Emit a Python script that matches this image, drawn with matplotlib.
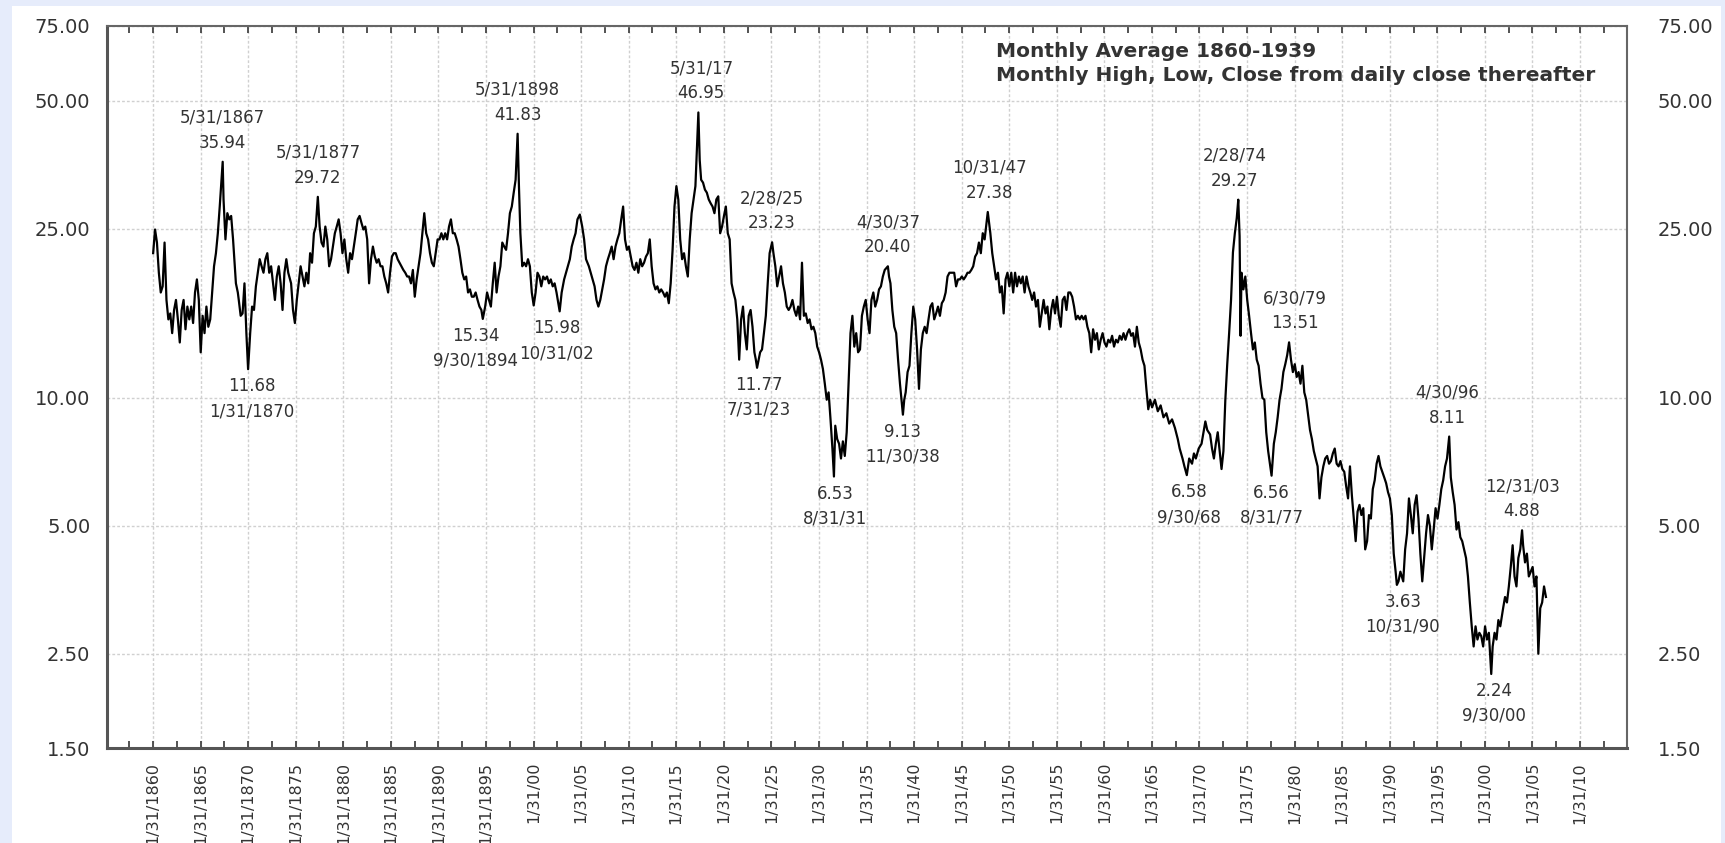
import matplotlib
matplotlib.use("Agg")
import matplotlib.pyplot as plt
from matplotlib.patches import Rectangle
from matplotlib.ticker import NullLocator

# ── Series: decimal year, price ──────────────────────────────────
years = [
    1860.1, 1860.3, 1860.5, 1860.7, 1860.9, 1861.1, 1861.3, 1861.5, 1861.7, 1861.9,
    1862.1, 1862.3, 1862.5, 1862.7, 1862.9, 1863.1, 1863.3, 1863.5, 1863.7, 1863.9,
    1864.1, 1864.3, 1864.5, 1864.7, 1864.9, 1865.1, 1865.3, 1865.5, 1865.7, 1865.9,
    1866.1, 1866.3, 1866.5, 1866.7, 1866.9, 1867.1, 1867.41, 1867.5, 1867.7, 1867.9,
    1868.1, 1868.3, 1868.5, 1868.8, 1869.0, 1869.1, 1869.3, 1869.5, 1869.7, 1869.9,
    1870.08, 1870.3, 1870.5, 1870.7, 1870.9, 1871.1, 1871.3, 1871.5, 1871.7, 1871.9,
    1872.1, 1872.3, 1872.5, 1872.7, 1872.9, 1873.1, 1873.3, 1873.5, 1873.7, 1873.9,
    1874.1, 1874.3, 1874.6, 1874.8, 1875.0, 1875.2, 1875.4, 1875.6, 1875.8, 1876.0,
    1876.2, 1876.4, 1876.6, 1876.8, 1877.0, 1877.2, 1877.41, 1877.6, 1877.8, 1878.0,
    1878.2, 1878.4, 1878.6, 1878.8, 1879.0, 1879.2, 1879.4, 1879.6, 1879.8, 1880.0,
    1880.2, 1880.4, 1880.6, 1880.8, 1881.0, 1881.2, 1881.4, 1881.6, 1881.8, 1882.0,
    1882.2, 1882.4, 1882.6, 1882.8, 1883.0, 1883.2, 1883.4, 1883.6, 1883.8, 1884.0,
    1884.2, 1884.4, 1884.6, 1884.8, 1885.0, 1885.2, 1885.4, 1885.6, 1885.8, 1886.0,
    1886.2, 1886.4, 1886.6, 1886.8, 1887.0, 1887.2, 1887.4, 1887.6, 1887.8, 1888.0,
    1888.2, 1888.4, 1888.6, 1888.8, 1889.0, 1889.2, 1889.4, 1889.6, 1889.8, 1890.0,
    1890.2, 1890.4, 1890.6, 1890.8, 1891.0, 1891.2, 1891.4, 1891.6, 1891.8, 1892.0,
    1892.2, 1892.4, 1892.6, 1892.8, 1893.0, 1893.2, 1893.4, 1893.6, 1893.8, 1894.0,
    1894.2, 1894.4, 1894.6, 1894.75, 1895.0, 1895.2, 1895.4, 1895.6, 1895.8, 1896.0,
    1896.2, 1896.4, 1896.6, 1896.8, 1897.0, 1897.2, 1897.4, 1897.6, 1897.8, 1898.0,
    1898.2, 1898.41, 1898.55, 1898.7, 1898.9, 1899.1, 1899.3, 1899.5, 1899.7, 1899.9,
    1900.1, 1900.3, 1900.5, 1900.7, 1900.9, 1901.1, 1901.3, 1901.5, 1901.7, 1901.9,
    1902.1, 1902.3, 1902.5, 1902.83, 1903.04, 1903.3, 1903.5, 1903.9, 1904.1, 1904.3,
    1904.5, 1904.7, 1904.95, 1905.2, 1905.4, 1905.6, 1905.9, 1906.2, 1906.5, 1906.7,
    1906.9, 1907.1, 1907.3, 1907.5, 1907.7, 1907.9, 1908.1, 1908.3, 1908.5, 1908.7,
    1908.9, 1909.1, 1909.3, 1909.5, 1909.7, 1909.9, 1910.1, 1910.3, 1910.5, 1910.7,
    1910.9, 1911.1, 1911.3, 1911.5, 1911.7, 1911.9, 1912.1, 1912.3, 1912.5, 1912.7,
    1912.9, 1913.1, 1913.3, 1913.5, 1913.7, 1913.9, 1914.1, 1914.3, 1914.5, 1914.7,
    1914.9, 1915.1, 1915.3, 1915.5, 1915.7, 1915.9, 1916.1, 1916.3, 1916.5, 1916.7,
    1916.9, 1917.1, 1917.41, 1917.55, 1917.7, 1917.9, 1918.1, 1918.3, 1918.5, 1918.7,
    1918.9, 1919.1, 1919.3, 1919.5, 1919.7, 1919.9, 1920.1, 1920.3, 1920.5, 1920.7,
    1920.9, 1921.1, 1921.3, 1921.5, 1921.7, 1921.9, 1922.1, 1922.3, 1922.5, 1922.7,
    1922.9, 1923.1, 1923.3, 1923.45, 1923.58, 1923.9, 1924.1, 1924.3, 1924.5, 1924.7,
    1924.9, 1925.16, 1925.3, 1925.5, 1925.7, 1925.9, 1926.1, 1926.3, 1926.5, 1926.7,
    1926.9, 1927.1, 1927.3, 1927.5, 1927.7, 1927.9, 1928.1, 1928.3, 1928.5, 1928.7,
    1928.9, 1929.1, 1929.3, 1929.5, 1929.7, 1929.9, 1930.1, 1930.3, 1930.5, 1930.7,
    1930.9, 1931.1, 1931.3, 1931.5, 1931.66, 1931.8, 1932.0, 1932.2, 1932.4, 1932.6,
    1932.8, 1933.0, 1933.2, 1933.4, 1933.6, 1933.8, 1934.0, 1934.2, 1934.4, 1934.6,
    1934.8, 1935.0, 1935.2, 1935.4, 1935.6, 1935.8, 1936.0, 1936.2, 1936.4, 1936.6,
    1936.8, 1937.0, 1937.33, 1937.45, 1937.6, 1937.8, 1938.0, 1938.2, 1938.4, 1938.6,
    1938.91, 1939.05, 1939.2, 1939.4, 1939.6, 1939.8, 1940.0, 1940.2, 1940.4, 1940.6,
    1940.8, 1941.0, 1941.2, 1941.4, 1941.6, 1941.8, 1942.0, 1942.2, 1942.4, 1942.6,
    1942.8, 1943.0, 1943.2, 1943.4, 1943.6, 1943.8, 1944.1, 1944.3, 1944.5, 1944.7,
    1944.9, 1945.1, 1945.3, 1945.5, 1945.7, 1945.9, 1946.1, 1946.3, 1946.5, 1946.7,
    1946.9, 1947.1, 1947.3, 1947.5, 1947.65, 1947.83, 1948.1, 1948.3, 1948.5, 1948.7,
    1948.9, 1949.1, 1949.3, 1949.5, 1949.7, 1949.9, 1950.1, 1950.3, 1950.5, 1950.7,
    1950.9, 1951.1, 1951.3, 1951.5, 1951.7, 1951.9, 1952.1, 1952.3, 1952.5, 1952.7,
    1952.9, 1953.1, 1953.3, 1953.5, 1953.7, 1953.9, 1954.1, 1954.3, 1954.5, 1954.7,
    1954.9, 1955.1, 1955.3, 1955.5, 1955.7, 1955.9, 1956.1, 1956.3, 1956.5, 1956.7,
    1956.9, 1957.1, 1957.3, 1957.5, 1957.7, 1957.9, 1958.1, 1958.3, 1958.5, 1958.7,
    1958.9, 1959.1, 1959.3, 1959.5, 1959.7, 1959.9, 1960.1, 1960.3, 1960.5, 1960.7,
    1960.9, 1961.1, 1961.3, 1961.5, 1961.7, 1961.9, 1962.1, 1962.3, 1962.5, 1962.7,
    1962.9, 1963.1, 1963.3, 1963.5, 1963.7, 1963.9, 1964.1, 1964.3, 1964.5, 1964.7,
    1964.9, 1965.1, 1965.4, 1965.7, 1966.0, 1966.3, 1966.6, 1966.9, 1967.2, 1967.5,
    1967.8, 1968.0, 1968.3, 1968.5, 1968.75, 1969.0, 1969.3, 1969.5, 1969.7, 1970.0,
    1970.3, 1970.5, 1970.7, 1970.9, 1971.2, 1971.4, 1971.6, 1971.8, 1972.0, 1972.2,
    1972.4, 1972.6, 1972.8, 1973.0, 1973.2, 1973.4, 1973.6, 1973.8, 1974.0, 1974.16,
    1974.3, 1974.4, 1974.5, 1974.7, 1974.9, 1975.1, 1975.3, 1975.5, 1975.7, 1975.9,
    1976.1, 1976.3, 1976.5, 1976.7, 1976.9, 1977.1, 1977.3, 1977.66, 1977.9, 1978.1,
    1978.3, 1978.5, 1978.7, 1978.9, 1979.1, 1979.3, 1979.5, 1979.7, 1979.9, 1980.1,
    1980.3, 1980.5, 1980.7, 1980.9, 1981.1, 1981.3, 1981.5, 1981.7, 1981.9, 1982.1,
    1982.3, 1982.5, 1982.7, 1982.9, 1983.1, 1983.3, 1983.5, 1983.7, 1983.9, 1984.1,
    1984.3, 1984.5, 1984.7, 1984.9, 1985.1, 1985.3, 1985.5, 1985.7, 1985.9, 1986.1,
    1986.3, 1986.5, 1986.7, 1986.9, 1987.1, 1987.3, 1987.5, 1987.7, 1987.9, 1988.1,
    1988.3, 1988.5, 1988.7, 1988.9, 1989.1, 1989.3, 1989.5, 1989.7, 1989.9, 1990.1,
    1990.3, 1990.5, 1990.7, 1990.83, 1991.0, 1991.2, 1991.5, 1991.7, 1991.9, 1992.1,
    1992.3, 1992.5, 1992.7, 1992.9, 1993.1, 1993.3, 1993.5, 1993.7, 1993.9, 1994.1,
    1994.3, 1994.5, 1994.7, 1994.9, 1995.1, 1995.3, 1995.5, 1995.7, 1995.9, 1996.1,
    1996.33, 1996.5, 1996.7, 1996.9, 1997.1, 1997.3, 1997.5, 1997.7, 1997.9, 1998.1,
    1998.3, 1998.5, 1998.7, 1998.9, 1999.1, 1999.3, 1999.5, 1999.7, 1999.9, 2000.1,
    2000.3, 2000.5, 2000.75, 2000.9, 2001.1, 2001.3, 2001.5, 2001.7, 2002.0, 2002.2,
    2002.4, 2002.6, 2002.8, 2003.0, 2003.2, 2003.4, 2003.6, 2003.8, 2003.99, 2004.1,
    2004.3, 2004.5, 2004.7, 2004.9, 2005.1, 2005.3, 2005.5, 2005.7, 2005.9, 2006.1,
    2006.3, 2006.5,
]

prices = [
    21.9, 24.9, 23.2, 19.7, 17.7, 18.3, 23.2, 17.0, 15.3, 15.8,
    14.2, 16.1, 17.0, 15.3, 13.5, 16.1, 17.0, 14.5, 16.4, 15.3,
    16.4, 15.0, 17.7, 19.0, 17.0, 12.8, 15.6, 14.2, 16.4, 14.7,
    15.3, 17.7, 20.4, 21.9, 24.4, 28.2, 35.94, 29.3, 23.6, 27.2,
    26.3, 26.8, 23.6, 18.6, 17.7, 17.0, 15.6, 15.8, 18.6, 14.2,
    11.68, 14.2, 16.4, 16.1, 18.3, 19.7, 21.2, 20.4, 19.7, 21.2,
    21.9, 19.7, 20.4, 18.6, 17.0, 19.3, 20.4, 18.6, 16.1, 19.7,
    21.2, 19.7, 18.6, 16.1, 15.0, 17.0, 18.6, 20.4, 19.3, 18.3,
    19.7, 18.6, 21.9, 20.8, 24.4, 25.3, 29.72, 25.3, 23.2, 22.7,
    25.3, 23.6, 20.4, 21.2, 22.7, 24.4, 25.3, 26.3, 24.4, 21.9,
    23.6, 21.2, 19.7, 21.9, 21.2, 22.7, 24.4, 26.3, 26.8, 25.8,
    24.9, 25.3, 23.6, 18.6, 21.2, 22.7, 21.5, 20.8, 21.2, 20.4,
    20.4, 19.3, 18.6, 17.7, 19.7, 21.5, 21.9, 21.9, 21.2, 20.8,
    20.4, 20.0, 19.7, 19.3, 19.3, 18.6, 20.0, 17.3, 19.0, 20.4,
    21.9, 24.4, 27.2, 24.4, 23.6, 21.9, 20.8, 20.4, 21.9, 23.6,
    23.6, 24.4, 23.6, 24.4, 23.6, 25.3, 26.3, 24.4, 24.4, 23.6,
    22.7, 21.2, 19.7, 19.0, 19.3, 17.7, 18.0, 17.3, 17.3, 17.7,
    17.0, 16.4, 16.1, 15.34, 16.4, 17.7, 17.0, 16.4, 18.6, 20.8,
    17.7, 19.3, 20.4, 23.2, 22.7, 22.3, 24.4, 27.2, 28.2, 30.4,
    32.6, 41.83, 31.5, 24.4, 20.4, 20.8, 20.4, 21.2, 20.4, 17.7,
    16.5, 17.7, 19.7, 19.3, 18.3, 19.3, 19.0, 19.3, 18.6, 19.0,
    18.3, 18.6, 17.7, 15.98, 17.7, 19.0, 19.7, 21.2, 22.7, 23.6,
    24.4, 26.3, 27.0, 25.3, 23.6, 21.2, 20.4, 19.3, 18.3, 17.0,
    16.4, 17.0, 18.0, 19.0, 20.4, 21.2, 21.9, 22.7, 21.2, 22.7,
    23.6, 24.4, 26.3, 28.2, 23.6, 22.3, 22.7, 21.5, 20.4, 20.0,
    20.8, 19.7, 21.2, 20.4, 20.8, 21.5, 21.9, 23.6, 20.4, 18.6,
    18.0, 18.3, 17.7, 18.0, 17.7, 17.3, 17.7, 16.7, 18.6, 22.3,
    28.2, 31.5, 29.3, 23.6, 21.2, 21.9, 20.4, 19.3, 23.6, 27.2,
    29.3, 31.5, 46.95, 36.3, 32.6, 32.1, 30.9, 30.4, 29.3, 28.7,
    28.2, 27.2, 29.3, 29.8, 24.4, 25.3, 26.8, 28.2, 24.4, 23.6,
    18.6, 17.7, 17.0, 15.3, 12.3, 15.3, 16.4, 14.2, 13.0, 15.6,
    16.1, 14.7, 12.8, 12.3, 11.77, 12.8, 13.0, 14.2, 15.6, 18.6,
    21.9, 23.23, 21.9, 20.4, 18.3, 19.3, 20.4, 18.6, 17.7, 16.4,
    16.1, 16.4, 17.0, 16.1, 15.6, 16.4, 15.3, 20.8, 15.6, 15.8,
    15.0, 15.3, 14.5, 14.7, 14.2, 13.2, 12.8, 12.3, 11.7, 10.8,
    9.9, 10.3, 8.9, 7.6, 6.53, 8.6, 8.0, 7.8, 7.2, 7.9,
    7.3, 8.3, 10.8, 14.2, 15.6, 13.2, 14.2, 12.8, 13.0, 15.6,
    16.4, 17.0, 15.3, 14.2, 17.0, 17.7, 16.4, 17.0, 18.0, 18.3,
    19.3, 20.0, 20.40, 19.3, 18.6, 16.1, 14.7, 14.2, 12.3, 10.8,
    9.13, 9.9, 10.3, 11.5, 11.9, 14.2, 16.4, 15.3, 13.0, 10.5,
    13.0, 14.2, 14.7, 14.2, 15.3, 16.4, 16.7, 15.3, 15.8, 16.4,
    15.6, 16.7, 17.0, 17.7, 19.3, 19.7, 19.7, 19.7, 18.3, 19.0,
    19.0, 19.3, 19.0, 19.3, 19.7, 19.7, 20.0, 20.4, 21.5, 21.9,
    23.2, 21.9, 24.4, 23.6, 25.3, 27.38, 24.4, 21.9, 20.4, 19.0,
    19.7, 17.7, 18.3, 15.8, 19.0, 19.7, 18.3, 19.7, 17.7, 19.7,
    18.3, 19.3, 18.6, 19.3, 17.7, 19.3, 18.3, 17.7, 17.0, 17.7,
    16.4, 17.0, 14.7, 15.8, 17.0, 15.8, 16.4, 14.5, 16.1, 17.0,
    15.8, 17.3, 15.6, 14.7, 17.0, 17.3, 16.1, 17.7, 17.7, 17.3,
    16.4, 15.3, 15.6, 15.3, 15.6, 15.3, 15.6, 14.7, 14.2, 12.8,
    14.5, 13.7, 14.2, 13.0, 13.7, 14.2, 13.5, 13.2, 13.7, 13.5,
    14.0, 13.2, 13.7, 13.5, 14.0, 13.7, 14.2, 13.7, 14.2, 14.5,
    14.0, 14.2, 13.2, 14.7, 13.5, 13.0, 12.3, 11.9, 10.5, 9.4,
    9.9, 9.5, 9.9, 9.3, 9.6, 9.0, 9.2, 8.7, 8.9, 8.5,
    8.0, 7.6, 7.2, 6.9, 6.58, 7.2, 7.0, 7.4, 7.2, 7.6,
    7.8, 8.3, 8.8, 8.4, 8.2, 7.6, 7.2, 7.8, 8.3, 7.5,
    6.8, 7.5, 9.9, 12.0, 14.2, 17.0, 22.0, 24.4, 26.5, 29.27,
    24.0, 14.0, 19.7, 18.0, 19.3, 17.0, 15.6, 14.2, 13.0, 13.5,
    12.3, 11.9, 10.8, 10.0, 9.9, 8.3, 7.5, 6.56, 7.8, 8.3,
    9.0, 9.9, 10.5, 11.5, 12.0, 12.6, 13.51, 12.3, 11.5, 12.0,
    11.2, 11.5, 10.8, 11.9, 10.3, 9.9, 9.1, 8.4, 8.0, 7.5,
    7.2, 6.9, 5.8, 6.5, 6.9, 7.2, 7.3, 7.0, 7.1, 7.4,
    7.6, 7.0, 6.9, 7.1, 6.8, 6.7, 6.2, 5.8, 6.9, 5.9,
    5.2, 4.6, 5.4, 5.6, 5.3, 5.5, 4.4, 4.6, 5.3, 5.2,
    6.1, 6.4, 7.0, 7.3, 6.9, 6.7, 6.5, 6.3, 6.0, 5.8,
    5.3, 4.3, 3.9, 3.63, 3.7, 3.9, 3.7, 4.4, 4.8, 5.8,
    5.3, 4.8, 5.6, 5.9, 5.2, 4.3, 3.7, 4.2, 4.8, 5.3,
    5.0, 4.4, 4.9, 5.5, 5.2, 5.6, 6.1, 6.4, 6.9, 7.2,
    8.11, 6.5, 6.0, 5.6, 4.9, 5.1, 4.7, 4.6, 4.4, 4.2,
    3.8, 3.3, 2.9, 2.6, 2.9, 2.7, 2.8, 2.75, 2.6, 2.9,
    2.7, 2.8, 2.24, 2.6, 2.8, 2.7, 3.0, 2.9, 3.2, 3.4,
    3.3, 3.6, 4.0, 4.5, 3.8, 3.6, 4.2, 4.4, 4.88, 4.5,
    4.1, 4.3, 3.8, 3.9, 4.0, 3.6, 3.8, 2.5, 3.2, 3.3,
    3.6, 3.4,
]

# ── Labelled highs and lows ──────────────────────────────────────
ann_dates  = ["5/31/1867", "1/31/1870", "5/31/1877", "9/30/1894", "5/31/1898",
              "10/31/02", "5/31/17", "7/31/23", "2/28/25", "8/31/31",
              "4/30/37", "11/30/38", "10/31/47", "9/30/68", "2/28/74",
              "8/31/77", "6/30/79", "10/31/90", "4/30/96", "9/30/00",
              "12/31/03"]
ann_years  = [1867.41, 1870.08, 1877.41, 1894.75, 1898.41,
              1902.83, 1917.41, 1923.58, 1925.16, 1931.66,
              1937.33, 1938.91, 1947.83, 1968.75, 1974.16,
              1977.66, 1979.50, 1990.83, 1996.33, 2000.75,
              2003.99]
ann_values = [35.94, 11.68, 29.72, 15.34, 41.83,
              15.98, 46.95, 11.77, 23.23, 6.53,
              20.40, 9.13, 27.38, 6.58, 29.27,
              6.56, 13.51, 3.63, 8.11, 2.24,
              4.88]
ann_above  = [True, False, True, False, True,
              False, True, False, True, False,
              True, False, True, False, True,
              False, True, False, True, False,
              True]
ann_dx     = [0, 4, 0, -7, 0, -3, 3, 2, 0, 1, 0, 0, 2, 2, -4, 0, 6, 6, -2, 3, 0]

tick_years = list(range(1860, 2011, 5))
tick_labels = [f"1/31/{y}" if y < 1900 else f"1/31/{y % 100:02d}" for y in tick_years]
y_ticks = [1.5, 2.5, 5, 10, 25, 50, 75]

TXT = "#333333"
GRID = "#d0d0d0"

fig = plt.figure(figsize=(17.25, 8.43), dpi=100, facecolor="#e6ecfb")
fig.patches.append(Rectangle((12 / 1725, 0), 1709 / 1725, 837 / 843,
                             transform=fig.transFigure, facecolor="white",
                             edgecolor="none", zorder=-5))

ax = fig.add_axes([107 / 1725, 1 - 748 / 843, 1520 / 1725, 722 / 843])
ax.set_facecolor("white")

ax.plot(years, prices, color="black", linewidth=1.6, zorder=3)

ax.set_yscale("log")
ax.set_ylim(1.5, 75)
ax.set_xlim(1855.25, 2015.02)

# x ticks at 1/31 of each fifth year
xt = [y + 1 / 12 for y in tick_years]
ax.set_xticks(xt)
ax.set_xticklabels(tick_labels, rotation=90, fontsize=11.5, color=TXT)
ax.set_xticks([x - 2.5 for x in xt] + [xt[-1] + 2.5], minor=True)
ax.tick_params(axis="x", which="both", direction="in", top=True, bottom=True,
               length=5, width=1.3, color="#444444", pad=10)

ax.set_yticks(y_ticks)
ax.set_yticklabels([f"{v:.2f}" for v in y_ticks], fontsize=14, color=TXT)
ax.yaxis.set_minor_locator(NullLocator())
ax.tick_params(axis="y", which="both", length=0, pad=12)

ax.grid(True, which="major", color=GRID, linestyle=(0, (2, 1.5)), linewidth=1.0, zorder=0)

for side in ["left", "bottom"]:
    ax.spines[side].set_linewidth(2.2)
    ax.spines[side].set_color("#555555")
for side in ["top", "right"]:
    ax.spines[side].set_linewidth(1.5)
    ax.spines[side].set_color("#666666")

# right-hand labels
ax2 = ax.twinx()
ax2.set_yscale("log")
ax2.set_ylim(1.5, 75)
ax2.set_yticks(y_ticks)
ax2.set_yticklabels([f"{v:.2f}" for v in y_ticks], fontsize=14, color=TXT)
ax2.yaxis.set_minor_locator(NullLocator())
ax2.tick_params(axis="y", which="both", length=0, pad=22)
for s in ax2.spines.values():
    s.set_visible(False)

# annotations
for d, yr, v, up, dx in zip(ann_dates, ann_years, ann_values, ann_above, ann_dx):
    if up:
        txt, dy, va = f"{d}\n{v:.2f}", 10, "bottom"
    else:
        txt, dy, va = f"{v:.2f}\n{d}", -8, "top"
    ax.annotate(txt, xy=(yr, v), xytext=(dx, dy), textcoords="offset pixels",
                ha="center", va=va, fontsize=12, color=TXT, linespacing=1.5,
                zorder=4)

ax.text(0.585, 0.978,
        "Monthly Average 1860-1939\nMonthly High, Low, Close from daily close thereafter",
        transform=ax.transAxes, ha="left", va="top", fontsize=14.5,
        fontweight="bold", color=TXT, linespacing=1.35)

fig.savefig("out.png", dpi=100, facecolor=fig.get_facecolor())
